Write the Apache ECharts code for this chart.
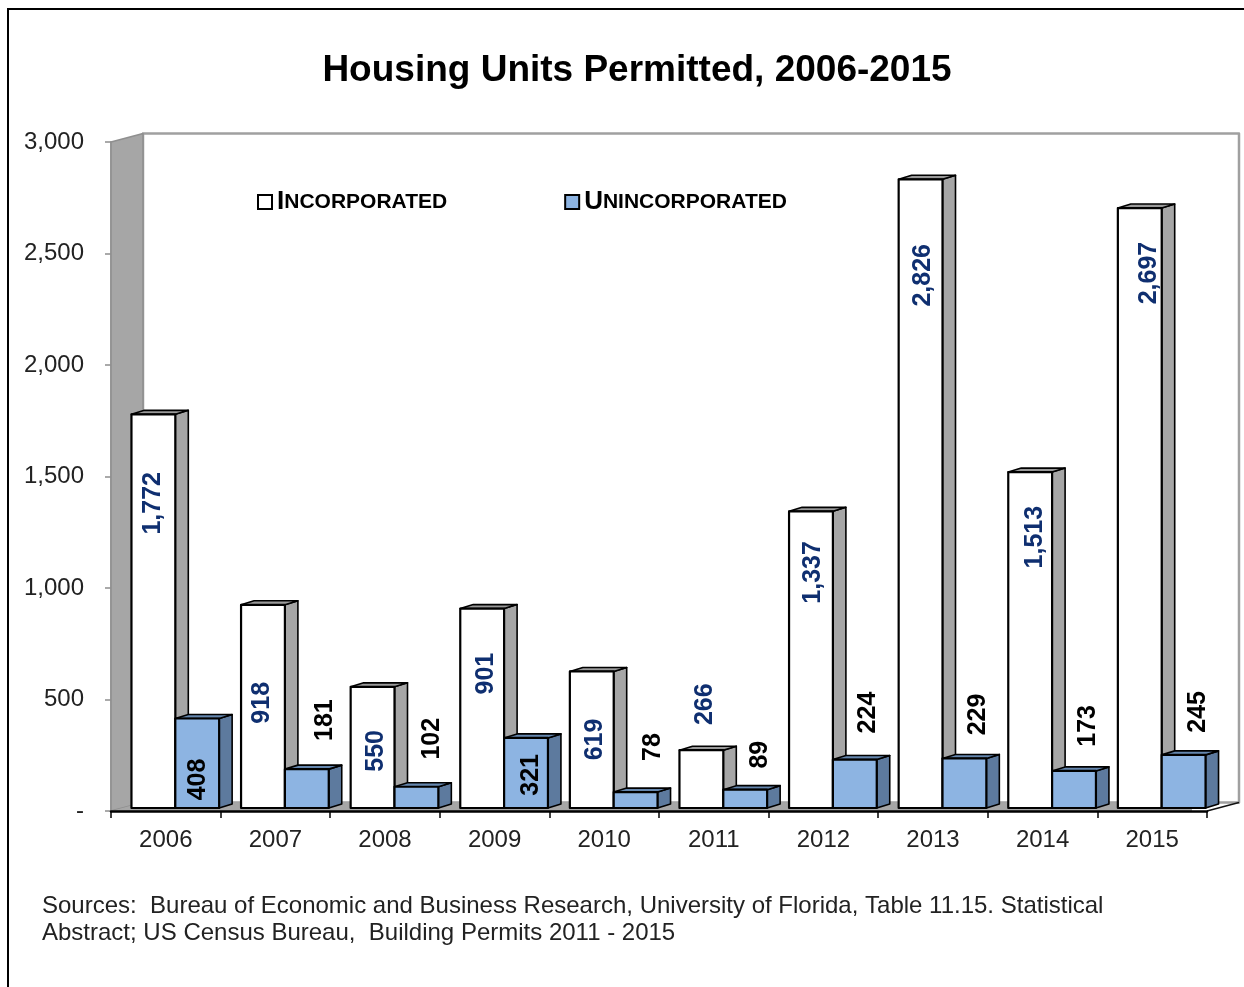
<!DOCTYPE html>
<html>
<head>
<meta charset="utf-8">
<title>Housing Units Permitted</title>
<script src="https://cdn.jsdelivr.net/npm/echarts@6/dist/echarts.min.js"></script>
<style>
  html, body { margin: 0; padding: 0; background: #fff; }
  #chart { width: 1244px; height: 987px; }
</style>
</head>
<body>
<div id="chart"></div>
<script>
const years = ['2006', '2007', '2008', '2009', '2010', '2011', '2012', '2013', '2014', '2015']
const incorporated = [1772, 918, 550, 901, 619, 266, 1337, 2826, 1513, 2697]
const unincorporated = [408, 181, 102, 321, 78, 89, 224, 229, 173, 245]
const yTicks = { min: 0, max: 3000, interval: 500 }

const FONT = '"Liberation Sans", Arial, sans-serif'
const WALL = '#a6a6a6'
const BLUE = '#8db4e2'
const BLUE_SIDE = '#5d7a9e'
const BLUE_TOP = '#6587af'
const LABEL_BLUE = '#0f2f70'

// chart depth: back wall is shifted this far from the axis plane
const WALL_DX = 32
const WALL_DY = -8.5
// bars stand a bit behind the axis plane and have their own depth
const BAR_DX = 9.5
const BAR_DY = -1.5
const BASE_DY = -3
const DEPTH_X = 13
const DEPTH_Y = -4

// the data labels were moved by hand in the original, [dx, dy] from the middle top of the bar
const incLabelNudge = [[0, 89], [-1, 98], [4, 64], [4, 65], [3, 68], [4, -46], [2, 61], [3, 96], [5, 65], [9, 65]]
const unincLabelNudge = [[1, 61], [18, -49], [16, -48], [5, 37], [17, -45], [15, -35], [13, -47], [14, -44], [14, -45], [14, -43]]

function poly(points, fill, stroke, lineWidth) {
  return {
    type: 'polygon',
    shape: { points },
    style: { fill, stroke, lineWidth, lineJoin: 'round' },
  }
}

// back wall, left wall and floor, taken from the grid rect
function renderWalls(params) {
  const r = params.coordSys
  const x0 = r.x, x1 = r.x + r.width
  const y0 = r.y, y1 = r.y + r.height
  const bx0 = x0 + WALL_DX, bx1 = x1 + WALL_DX
  const by0 = y0 + WALL_DY, by1 = y1 + WALL_DY
  return {
    type: 'group',
    children: [
      poly([[bx0, by0], [bx1, by0], [bx1, by1], [bx0, by1]], '#fff', '#a0a0a0', 2.5),
      poly([[x0, y0], [bx0, by0], [bx0, by1], [x0, y1]], WALL, '#8f8f8f', 1.5),
      poly([[x0, y1], [bx0, by1], [x1 - 15, by1], [x1 - 15, y1]], WALL, null, 0),
      {
        type: 'line',
        shape: { x1: x1, y1: y1, x2: bx1, y2: by1 },
        style: { stroke: '#111', lineWidth: 1.5 },
      },
    ],
  }
}

function makeBarRenderer(slot, colors, nudges, labelColor) {
  return function (params, api) {
    const i = api.value(0)
    const v = api.value(1)
    const top = api.coord([i, v])
    const base = api.coord([i, 0])
    const w = api.size([1, 0])[0] * 0.4
    const left = top[0] - w + slot * w + BAR_DX
    const right = left + w
    const t = top[1] + BAR_DY
    const b = base[1] + BASE_DY
    const nudge = nudges[i]
    return {
      type: 'group',
      children: [
        poly([[right, t], [right + DEPTH_X, t + DEPTH_Y], [right + DEPTH_X, b + DEPTH_Y], [right, b]], colors.side, '#000', 1.6),
        poly([[left, t], [left + DEPTH_X, t + DEPTH_Y], [right + DEPTH_X, t + DEPTH_Y], [right, t]], colors.top, '#000', 1.6),
        poly([[left, t], [right, t], [right, b], [left, b]], colors.front, '#000', 2.2),
        {
          type: 'text',
          z2: 50,
          x: left + w / 2 + nudge[0],
          y: t + nudge[1],
          rotation: Math.PI / 2,
          style: {
            text: v.toLocaleString('en-US'),
            fill: labelColor,
            font: 'bold 25px ' + FONT,
            align: 'center',
            verticalAlign: 'middle',
          },
        },
      ],
    }
  }
}

function legendText(name) {
  const upper = name.toUpperCase()
  return '{cap|' + upper[0] + '}{rest|' + upper.slice(1) + '}'
}

const myChart = echarts.init(document.getElementById('chart'))
myChart.setOption({
  animation: false,
  backgroundColor: '#fff',
  title: {
    text: 'Housing Units Permitted, 2006-2015',
    left: 632,
    top: 47,
    textAlign: 'center',
    textStyle: { fontFamily: FONT, fontSize: 37, fontWeight: 'bold', color: '#000' },
  },
  legend: {
    left: 252,
    top: 184,
    itemWidth: 14,
    itemHeight: 14,
    itemGap: 117,
    selectedMode: false,
    formatter: legendText,
    textStyle: {
      rich: {
        cap: { fontFamily: FONT, fontSize: 26, fontWeight: 'bold', color: '#000' },
        rest: { fontFamily: FONT, fontSize: 21, fontWeight: 'bold', color: '#000' },
      },
    },
    data: [
      { name: 'Incorporated', icon: 'rect', itemStyle: { color: '#fff', borderColor: '#000', borderWidth: 2 } },
      { name: 'Unincorporated', icon: 'rect', itemStyle: { color: BLUE, borderColor: '#000', borderWidth: 2 } },
    ],
  },
  grid: { left: 111, right: 37, top: 142, bottom: 176 },
  xAxis: {
    type: 'category',
    data: years,
    axisLine: { show: true, lineStyle: { color: '#000', width: 2.5 } },
    axisTick: { show: true, length: 7, lineStyle: { color: '#000', width: 1.5 } },
    axisLabel: { fontFamily: FONT, fontSize: 24, color: '#222', margin: 17 },
    z: 10,
  },
  yAxis: {
    type: 'value',
    min: yTicks.min,
    max: yTicks.max,
    interval: yTicks.interval,
    splitLine: { show: false },
    axisLine: { show: true, lineStyle: { color: '#8f8f8f', width: 1.5 } },
    axisTick: { show: true, length: 6, lineStyle: { color: '#8f8f8f', width: 1.5 } },
    axisLabel: {
      fontFamily: FONT,
      fontSize: 24,
      color: '#222',
      margin: 27,
      formatter: (v) => (v === 0 ? '-' : v.toLocaleString('en-US')),
    },
  },
  graphic: [
    // sheet border, top and left only
    { type: 'polyline', shape: { points: [[1244, 9], [8, 9], [8, 987]] }, style: { fill: null, stroke: '#000', lineWidth: 2 } },
    {
      type: 'text',
      left: 42,
      top: 894,
      style: {
        text: 'Sources:  Bureau of Economic and Business Research, University of Florida, Table 11.15. Statistical',
        font: '24px ' + FONT,
        fill: '#222',
      },
    },
    {
      type: 'text',
      left: 42,
      top: 921,
      style: {
        text: 'Abstract; US Census Bureau,  Building Permits 2011 - 2015',
        font: '24px ' + FONT,
        fill: '#222',
      },
    },
  ],
  series: [
    {
      name: 'walls',
      type: 'custom',
      coordinateSystem: 'cartesian2d',
      silent: true,
      clip: false,
      z: 1,
      data: [[0, 0]],
      renderItem: renderWalls,
    },
    {
      name: 'Incorporated',
      type: 'custom',
      coordinateSystem: 'cartesian2d',
      clip: false,
      z: 2,
      encode: { x: 0, y: 1 },
      data: incorporated.map((v, i) => [i, v]),
      renderItem: makeBarRenderer(0, { front: '#fff', side: WALL, top: '#9a9a9a' }, incLabelNudge, LABEL_BLUE),
    },
    {
      name: 'Unincorporated',
      type: 'custom',
      coordinateSystem: 'cartesian2d',
      clip: false,
      z: 3,
      encode: { x: 0, y: 1 },
      data: unincorporated.map((v, i) => [i, v]),
      renderItem: makeBarRenderer(1, { front: BLUE, side: BLUE_SIDE, top: BLUE_TOP }, unincLabelNudge, '#000'),
    },
  ],
})
</script>
</body>
</html>
